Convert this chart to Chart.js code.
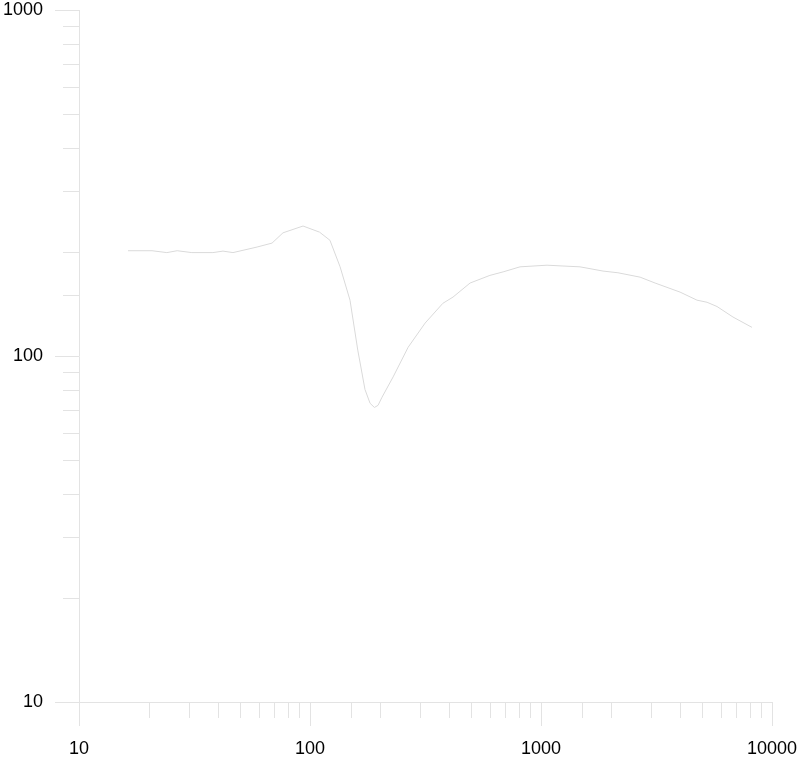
<!DOCTYPE html>
<html>
<head>
<meta charset="utf-8">
<script src="https://cdn.jsdelivr.net/npm/chart.js@4/dist/chart.umd.min.js"></script>
<style>
  html, body { margin: 0; padding: 0; background: #fff; }
  #chart { display: block; }
</style>
</head>
<body>
<canvas id="chart" width="800" height="759"></canvas>
<script>
'use strict';

// frequency response
var freqs  = [16.3, 20.7, 24.0, 26.6, 30.8, 38.0, 42.0, 46.4, 59.0, 68.5,
              76.4, 93.3, 110, 122, 135, 149, 161, 173, 182, 190,
              197, 205, 229, 266, 315, 376, 416, 493, 601, 685,
              811, 1062, 1245, 1475, 1855, 2154, 2685, 3118, 3999, 4735,
              5233, 5781, 6778, 8190];
var values = [201.5, 201.5, 199, 201.5, 199, 199, 201, 199, 206.5, 212,
              227, 237.5, 228, 216, 181, 145, 104, 80, 73, 71,
              72, 76, 87, 106, 124.5, 142, 148, 162.5, 171, 175,
              181, 183, 182, 181, 176, 174, 169, 162.5, 153, 145,
              143, 139, 129.6, 121];

var xRange = [10, 10000];
var yRange = [10, 1000];

var axisColor  = '#e3e3e3';
var lineColor  = '#dadada';
var majorTick  = 24;
var minorTick  = 16;

function isMajor(v) {
    var l = Math.log10(v);
    return Math.abs(l - Math.round(l)) < 1e-9;
}

var points = freqs.map(function (f, i) { return { x: f, y: values[i] }; });

// minor ticks are shorter than the major ones
var minorTicks = {
    id: 'minorTicks',
    afterDraw: function (chart) {
        var ctx = chart.ctx;
        var xs = chart.scales.x, ys = chart.scales.y;
        ctx.save();
        ctx.strokeStyle = axisColor;
        ctx.lineWidth = 1;
        xs.ticks.forEach(function (t) {
            if (isMajor(t.value)) return;
            var px = Math.round(xs.getPixelForValue(t.value)) + 0.5;
            ctx.beginPath();
            ctx.moveTo(px, xs.top);
            ctx.lineTo(px, xs.top + minorTick);
            ctx.stroke();
        });
        ys.ticks.forEach(function (t) {
            if (isMajor(t.value)) return;
            var py = Math.round(ys.getPixelForValue(t.value)) + 0.5;
            ctx.beginPath();
            ctx.moveTo(ys.right - minorTick, py);
            ctx.lineTo(ys.right, py);
            ctx.stroke();
        });
        ctx.restore();
    }
};

function tickColor(c) {
    return (c.tick && isMajor(c.tick.value)) ? axisColor : 'rgba(0,0,0,0)';
}

function noPadding(s) {
    s.paddingLeft = 0;
    s.paddingRight = 0;
    s.paddingTop = 0;
    s.paddingBottom = 0;
}

var labelFont = { family: 'Arial, "Liberation Sans", sans-serif', size: 18 };

var myChart = new Chart(document.getElementById('chart'), {
    type: 'line',
    data: {
        datasets: [{
            data: points,
            borderColor: lineColor,
            borderWidth: 1,
            pointRadius: 0,
            tension: 0,
            fill: false
        }]
    },
    options: {
        responsive: false,
        animation: false,
        layout: { padding: { top: 10, right: 28, left: 0, bottom: 0 } },
        plugins: {
            legend: { display: false },
            tooltip: { enabled: false }
        },
        scales: {
            x: {
                type: 'logarithmic',
                min: xRange[0],
                max: xRange[1],
                afterFit: function (s) { s.height = 57; noPadding(s); },
                border: { color: axisColor, width: 1 },
                grid: {
                    drawOnChartArea: false,
                    drawTicks: true,
                    tickLength: majorTick,
                    tickColor: tickColor
                },
                ticks: {
                    autoSkip: false,
                    maxRotation: 0,
                    padding: 12,
                    color: '#000',
                    font: labelFont,
                    callback: function (v) { return isMajor(v) ? String(v) : ''; }
                }
            },
            y: {
                type: 'logarithmic',
                min: yRange[0],
                max: yRange[1],
                afterFit: function (s) { s.width = 79; noPadding(s); },
                border: { color: axisColor, width: 1 },
                grid: {
                    drawOnChartArea: false,
                    drawTicks: true,
                    tickLength: majorTick,
                    tickColor: tickColor
                },
                ticks: {
                    autoSkip: false,
                    padding: 12,
                    color: '#000',
                    font: labelFont,
                    callback: function (v) { return isMajor(v) ? String(v) : ''; }
                }
            }
        }
    },
    plugins: [minorTicks]
});
</script>
</body>
</html>
